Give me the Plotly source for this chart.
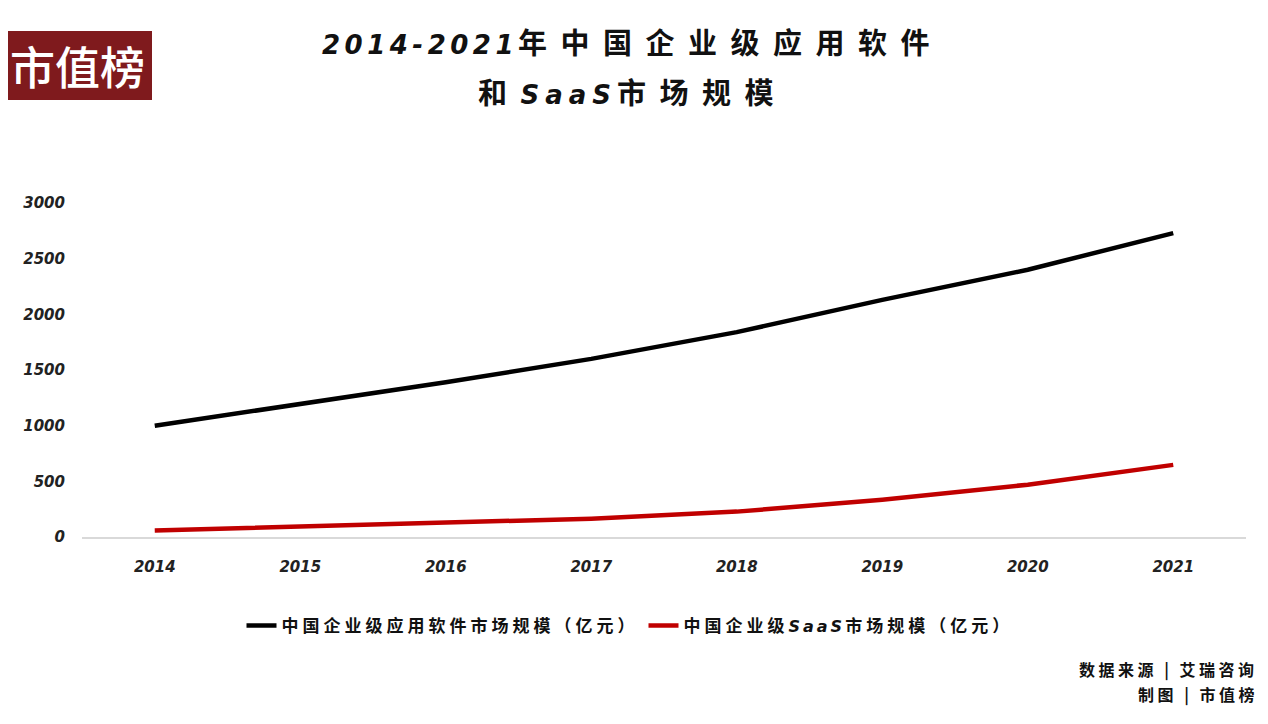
import plotly.graph_objects as go

years = ["2014", "2015", "2016", "2017", "2018", "2019", "2020", "2021"]
software_market = [1000, 1195, 1390, 1600, 1840, 2130, 2400, 2730]
saas_market = [58, 95, 132, 165, 228, 335, 470, 648]
y_ticks = [0, 500, 1000, 1500, 2000, 2500, 3000]

LAT = "font-family:'DejaVu Sans';font-style:italic;font-weight:bold"

def cjk(t, sp):
    return f"<span style='letter-spacing:{sp}px'>{t}</span>"

def lat(t, sp, size=None):
    fs = f";font-size:{size}px" if size else ""
    return f"<span style=\"{LAT};letter-spacing:{sp}px{fs}\">{t}</span>"

series_names = [
    cjk("中国企业级应用软件市场规模（亿元）", 4),
    cjk("中国企业级", 4) + lat("SaaS", 3, 16) + cjk("市场规模（亿元）", 4),
]

OFF = 8  # page body margin
W, H = 1268 - OFF, 724 - OFF
L, R, T, B = 82 - OFF, 22, 203 - OFF, 724 - 537
PW, PH = W - L - R, H - T - B

def px(x):
    return (x - OFF - L) / PW

def py(y):
    return (H - (y - OFF) - B) / PH

fig = go.Figure()
fig.add_trace(go.Scatter(x=years, y=software_market, mode="lines", name=series_names[0],
                         line=dict(color="#000000", width=4.5)))
fig.add_trace(go.Scatter(x=years, y=saas_market, mode="lines", name=series_names[1],
                         line=dict(color="#c00000", width=4.5)))

tick_font = dict(family="DejaVu Sans", size=15, color="#222222", weight="bold", style="italic")

fig.update_layout(
    width=W, height=H,
    margin=dict(l=L, r=R, t=T, b=B, autoexpand=False),
    paper_bgcolor="white", plot_bgcolor="white",
    showlegend=True,
    legend=dict(orientation="h", x=px(630), xanchor="center", y=py(626), yanchor="middle",
                font=dict(family="Noto Sans CJK SC", size=17, color="#111111", weight="bold"),
                itemwidth=30, tracegroupgap=0, bgcolor="rgba(0,0,0,0)"),
    xaxis=dict(type="category", range=[-0.5, 7.5], showgrid=False, zeroline=False,
               showline=True, linecolor="#d9d9d9", linewidth=1.5,
               ticks="outside", ticklen=15, tickcolor="rgba(0,0,0,0)",
               tickfont=tick_font),
    yaxis=dict(range=[0, 3000], tickvals=y_ticks, showgrid=False, zeroline=False,
               showline=False, ticks="outside", ticklen=13, tickcolor="rgba(0,0,0,0)",
               tickfont=tick_font),
)

# logo
fig.add_shape(type="rect", xref="paper", yref="paper",
              x0=px(0), x1=px(152), y0=py(100), y1=py(31),
              fillcolor="#7f1a1d", line=dict(width=0), layer="above")
fig.add_annotation(text="市值榜", xref="paper", yref="paper", x=px(77), y=py(66),
                   showarrow=False, xanchor="center", yanchor="middle",
                   font=dict(family="Noto Sans CJK SC", size=45, color="white", weight=500))

# title
title_font = dict(family="Noto Sans CJK SC", size=29, color="#111111", weight="bold")
fig.add_annotation(text=lat("2014-2021", 4.5, 26) + cjk("年中国企业级应用软件", 13.5),
                   xref="paper", yref="paper",
                   x=px(632), y=py(41), showarrow=False, xanchor="center", yanchor="middle",
                   font=title_font)
fig.add_annotation(text=cjk("和", 13.5) + lat("SaaS", 6, 26) + cjk("市场规模", 13.5),
                   xref="paper", yref="paper",
                   x=px(632), y=py(91), showarrow=False, xanchor="center", yanchor="middle",
                   font=title_font)

# source
src_font = dict(family="Noto Sans CJK SC", size=16, color="#111111", weight="bold")
fig.add_annotation(text=cjk("数据来源 | 艾瑞咨询", 3.5), xref="paper", yref="paper",
                   x=px(1260), y=py(669), showarrow=False, xanchor="right", yanchor="middle",
                   font=src_font)
fig.add_annotation(text=cjk("制图 | 市值榜", 3.5), xref="paper", yref="paper",
                   x=px(1260), y=py(694), showarrow=False, xanchor="right", yanchor="middle",
                   font=src_font)

fig.write_html("out.html")
